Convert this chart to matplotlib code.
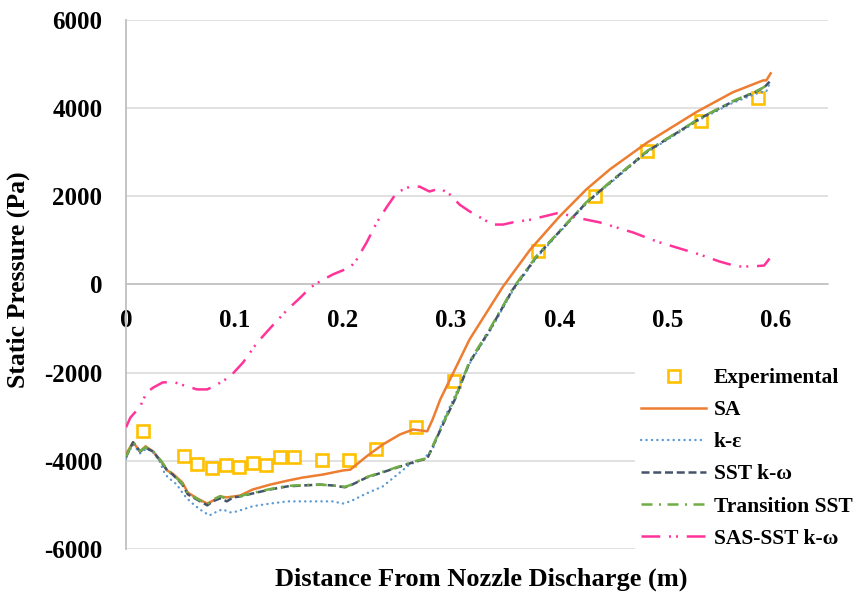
import matplotlib
matplotlib.use('Agg')
import matplotlib.pyplot as plt
from matplotlib.ticker import FixedLocator, FuncFormatter

plt.rcParams['font.family'] = ['Liberation Serif', 'DejaVu Serif']
plt.rcParams['font.weight'] = 'bold'

# measured static pressure along the nozzle axis
exp_x = [0.016, 0.0535, 0.0655, 0.079, 0.092, 0.104, 0.117, 0.129, 0.142, 0.155,
         0.181, 0.206, 0.231, 0.268, 0.303, 0.380, 0.433, 0.481, 0.531, 0.583]
exp_p = [-3330, -3900, -4080, -4170, -4100, -4130, -4060, -4100, -3920, -3920,
         -3990, -3990, -3740, -3240, -2180, 750, 2000, 3020, 3720, 4240]

# SA
sa_x = [0.0, 0.001, 0.0065, 0.013, 0.018, 0.025, 0.031, 0.038, 0.043, 0.052, 0.057,
        0.0655, 0.075, 0.079, 0.087, 0.093, 0.099, 0.105, 0.117, 0.133, 0.149, 0.163,
        0.182, 0.200, 0.207, 0.222, 0.237, 0.253, 0.265, 0.278, 0.283, 0.290, 0.3035,
        0.317, 0.327, 0.348, 0.373, 0.400, 0.425, 0.4465, 0.481, 0.527, 0.560, 0.588,
        0.591, 0.595]
sa_p = [-3900, -3810, -3580, -3790, -3670, -3790, -3970, -4220, -4290, -4490, -4720,
        -4850, -4970, -4920, -4810, -4830, -4810, -4790, -4650, -4540, -4450, -4380,
        -4310, -4220, -4200, -3900, -3630, -3400, -3290, -3330, -3060, -2610, -1930,
        -1250, -860, -45, 790, 1540, 2160, 2610, 3220, 3920, 4360, 4630, 4630, 4790]

# k-epsilon
ke_x = [0.0, 0.001, 0.0065, 0.013, 0.019, 0.025, 0.031, 0.036, 0.041, 0.047, 0.053,
        0.059, 0.068, 0.077, 0.084, 0.089, 0.096, 0.102, 0.117, 0.133, 0.149, 0.163,
        0.179, 0.191, 0.200, 0.207, 0.222, 0.237, 0.253, 0.262, 0.274, 0.283, 0.292,
        0.302, 0.317, 0.336, 0.357, 0.379, 0.400, 0.425, 0.4465, 0.481, 0.5295, 0.560,
        0.585, 0.591, 0.594]
ke_p = [-3950, -3860, -3630, -3830, -3720, -3810, -4010, -4310, -4420, -4540, -4760,
        -4920, -5100, -5240, -5150, -5100, -5170, -5150, -5030, -4970, -4920, -4920,
        -4920, -4920, -4970, -4920, -4740, -4580, -4260, -4080, -3970, -3740, -3130,
        -2610, -1800, -1050, -140, 610, 1180, 1840, 2290, 3000, 3740, 4120, 4360,
        4380, 4560]

# SST k-omega
sst_x = [0.0, 0.001, 0.0065, 0.013, 0.018, 0.025, 0.033, 0.038, 0.043, 0.052, 0.057,
         0.0655, 0.075, 0.080, 0.087, 0.093, 0.099, 0.105, 0.117, 0.133, 0.149, 0.163,
         0.179, 0.191, 0.202, 0.207, 0.222, 0.237, 0.253, 0.268, 0.278, 0.287, 0.296,
         0.3035, 0.317, 0.336, 0.357, 0.379, 0.400, 0.425, 0.4465, 0.481, 0.5295,
         0.560, 0.582, 0.589, 0.594]
sst_p = [-3920, -3860, -3580, -3790, -3700, -3790, -4040, -4220, -4310, -4540, -4760,
         -4880, -5010, -4920, -4850, -4920, -4830, -4810, -4740, -4650, -4580, -4560,
         -4540, -4560, -4600, -4560, -4380, -4260, -4130, -4010, -3950, -3470, -2990,
         -2610, -1770, -1020, -110, 635, 1200, 1860, 2310, 3020, 3765, 4150, 4380,
         4470, 4600]

# Transition SST
tr_x = [0.0, 0.001, 0.0065, 0.013, 0.018, 0.025, 0.033, 0.038, 0.043, 0.052, 0.057,
        0.0655, 0.075, 0.080, 0.087, 0.093, 0.099, 0.105, 0.117, 0.133, 0.149, 0.163,
        0.179, 0.191, 0.202, 0.207, 0.222, 0.237, 0.253, 0.268, 0.278, 0.287, 0.296,
        0.3035, 0.317, 0.336, 0.357, 0.379, 0.400, 0.425, 0.4465, 0.481, 0.5295,
        0.560, 0.582, 0.589, 0.594]
tr_p = [-3900, -3850, -3570, -3780, -3690, -3780, -4020, -4200, -4300, -4520, -4740,
        -4860, -4990, -4880, -4800, -4870, -4810, -4800, -4730, -4640, -4570, -4550,
        -4540, -4560, -4590, -4550, -4370, -4250, -4120, -4000, -3940, -3450, -2970,
        -2590, -1750, -1000, -90, 650, 1210, 1870, 2320, 3030, 3770, 4160, 4390,
        4480, 4610]

# SAS-SST k-omega
sas_x = [0.0, 0.004, 0.013, 0.019, 0.025, 0.034, 0.045, 0.056, 0.0655, 0.075, 0.084,
         0.096, 0.108, 0.121, 0.136, 0.149, 0.161, 0.170, 0.179, 0.191, 0.207, 0.213,
         0.222, 0.2315, 0.241, 0.250, 0.262, 0.271, 0.280, 0.290, 0.299, 0.308, 0.317,
         0.327, 0.3385, 0.348, 0.357, 0.373, 0.385, 0.400, 0.412, 0.425, 0.437, 0.444,
         0.468, 0.490, 0.508, 0.5295, 0.548, 0.564, 0.578, 0.589, 0.594]
sas_p = [-3240, -3020, -2770, -2450, -2340, -2220, -2220, -2310, -2380, -2380, -2270,
         -2090, -1770, -1320, -910, -570, -295, -70, 70, 230, 390, 570, 950, 1410,
         1770, 2090, 2220, 2220, 2110, 2180, 2040, 1810, 1660, 1520, 1360, 1360, 1410,
         1470, 1540, 1630, 1540, 1470, 1410, 1360, 1180, 975, 840, 680, 520, 410, 410,
         430, 590]

fig = plt.figure(figsize=(8.55, 5.94), dpi=100)
ax = fig.add_axes([0.1474, 0.0758, 0.8206, 0.8905])

ax.plot(exp_x, exp_p, linestyle='none', marker='s', markersize=8.5,
        markerfacecolor='white', markeredgecolor='#FFC000', markeredgewidth=1.9,
        label='Experimental', zorder=3)
ax.plot(sa_x, sa_p, color='#ED7D31', lw=1.8, label='SA', zorder=4)
ax.plot(ke_x, ke_p, color='#5B9BD5', lw=1.7, linestyle=(0, (0.1, 2.2)),
        dash_capstyle='round', label='k-ε', zorder=5)
ax.plot(sst_x, sst_p, color='#44546A', lw=1.8, linestyle=(0, (3.2, 1.5)),
        label='SST k-ω', zorder=6)
ax.plot(tr_x, tr_p, color='#70AD47', lw=1.8, linestyle=(0, (4.4, 2.6, 0.8, 2.6)),
        label='Transition SST', zorder=7)
ax.plot(sas_x, sas_p, color='#FF3399', lw=1.8,
        linestyle=(0, (7.5, 3.5, 0.8, 2.0, 0.8, 3.5)),
        label='SAS-SST k-ω', zorder=8)

ax.set_xlim(0, 0.6476)
ax.set_ylim(-6000, 6000)

ax.yaxis.set_major_locator(FixedLocator([-6000, -4000, -2000, 0, 2000, 4000, 6000]))
ax.xaxis.set_major_locator(FixedLocator([0, 0.1, 0.2, 0.3, 0.4, 0.5, 0.6]))
ax.xaxis.set_major_formatter(FuncFormatter(lambda v, p: '0' if v == 0 else '%.1f' % v))
ax.yaxis.set_major_formatter(FuncFormatter(lambda v, p: '%d' % v))

ax.grid(axis='y', color='#D9D9D9', lw=1.1)
ax.set_axisbelow(True)
for s in ['top', 'right']:
    ax.spines[s].set_visible(False)
ax.spines['left'].set_color('#BFBFBF')
ax.spines['left'].set_linewidth(1.3)
ax.spines['bottom'].set_position(('data', 0))
ax.spines['bottom'].set_color('#BFBFBF')
ax.spines['bottom'].set_linewidth(1.1)
ax.tick_params(axis='both', length=0, labelsize=18)
ax.tick_params(axis='x', pad=18)
ax.tick_params(axis='y', pad=17)

ax.set_xlabel('Distance From Nozzle Discharge (m)', fontsize=19, fontweight='bold',
              labelpad=0)
ax.xaxis.set_label_coords(0.507, -0.035)
ax.set_ylabel('Static Pressure (Pa)', fontsize=18.5, fontweight='bold')
ax.yaxis.set_label_coords(-0.137, 0.51)

leg = ax.legend(loc='lower left', bbox_to_anchor=(0.71, -0.032), fontsize=15.5,
                frameon=True, facecolor='white', edgecolor='none', framealpha=1,
                handlelength=3.0, handletextpad=0.35, labelspacing=0.56,
                borderpad=0.3)

fig.savefig('out.png', dpi=100)
